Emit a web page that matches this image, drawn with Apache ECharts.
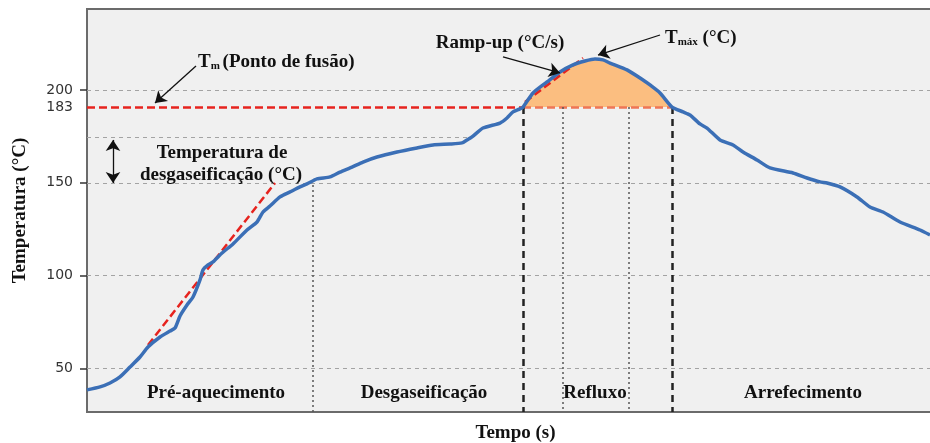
<!DOCTYPE html>
<html>
<head>
<meta charset="utf-8">
<script src="https://cdn.jsdelivr.net/npm/echarts@6/dist/echarts.min.js"></script>
<style>
  html, body { margin: 0; padding: 0; background: #fff; }
  #chart { width: 930px; height: 443px; }
</style>
</head>
<body>
<div id="chart"></div>
<script>
// perfil de refusao: tempo (unidades arbitrarias) x temperatura (oC)
const tempo = [0, 13, 23, 33, 43, 53, 61, 73, 83, 88, 93, 100, 106, 113, 116, 121, 126, 135, 146, 160,
  170, 176, 183, 193, 203, 213, 220, 230, 243, 253, 265, 276, 290, 310, 330, 346, 363, 375, 380, 385,
  396, 413, 420, 426, 433, 436, 446, 460, 473, 486, 498, 508, 516, 523, 540, 556, 563, 573, 585, 596,
  603, 613, 620, 633, 646, 656, 670, 683, 706, 720, 733, 740, 753, 770, 783, 796, 813, 833, 843];
const temperatura = [38.5, 40.1, 42.2, 45.5, 50.8, 56.2, 61.6, 67.0, 70.2, 71.8, 78.3, 84.2, 88.5, 97.7, 103.1, 105.8, 107.4, 112.2, 117.1, 124.6,
  128.9, 134.3, 137.5, 142.4, 145.1, 147.8, 149.4, 152.1, 153.2, 155.8, 158.5, 161.2, 163.9, 166.6, 168.8, 170.4, 170.9, 171.5, 173.1, 174.7,
  179.5, 182.2, 184.9, 188.2, 189.8, 190.8, 198.4, 204.3, 209.7, 213.5, 215.6, 216.7, 216.2, 214.5, 210.8, 205.4, 202.7, 198.4, 190.8, 188.2,
  186.5, 181.7, 179.5, 173.1, 170.4, 166.6, 162.3, 158.0, 155.3, 152.6, 150.5, 149.9, 147.8, 142.4, 137.0, 134.3, 128.9, 124.6, 121.9];

const yTicks = [50, 100, 150, 200];
const tmLabel = '183';
const tmNivel = 190.8;        // altura desenhada da linha Tm
const desgasNivel = 174.7;    // linha da temperatura de desgaseificacao
const desgasFim = 385;
const limitesFases = [226, 436, 476, 542, 585];
const fimRefluxo = 585;
const rampaPre = [[61, 62.7], [188, 149.9]];
const rampaUp = [[438, 193.5], [496, 217.2]];

const yMin = 26.6, yMax = 243.6, xMax = 845;
const serif = 'bold 19px "Liberation Serif", "Times New Roman", serif';
const serifNome = { fontFamily: '"Liberation Serif", "Times New Roman", serif', fontWeight: 'bold', fontSize: 19, color: '#111' };

const curva = tempo.map((t, i) => [t, temperatura[i]]);
const pico = curva.filter(p => p[0] >= limitesFases[1] && p[0] <= fimRefluxo);

function seg(x1, y1, x2, y2, style, s1, s2) {
  return [
    { coord: [x1, y1], symbol: s1 || 'none', symbolSize: 11 },
    { coord: [x2, y2], symbol: s2 || 'none', symbolSize: 11, lineStyle: style }
  ];
}
function helper(z, data) {
  return {
    type: 'line', data: [], silent: true, animation: false,
    markLine: { z: z, silent: true, animation: false, label: { show: false }, symbol: 'none', data: data }
  };
}

const grade = { color: '#a3a3a3', width: 1, type: [4, 4] };
const vermelho = { color: '#e6231e', width: 2.5, type: [8, 4] };
const salmao = { color: '#ee7656', width: 2.5, type: [8, 4] };
const preto = { color: '#222', width: 2.5, type: [7, 5] };
const pontilhado = { color: '#555', width: 1.5, type: [2, 3] };
const seta = { color: '#111', width: 1.3, type: 'solid' };

const chart = echarts.init(document.getElementById('chart'));
chart.setOption({
  animation: false,
  grid: { left: 87, top: 9, width: xMax, bottom: 31, outerBoundsMode: 'none', containLabel: false,
    show: true, backgroundColor: '#f0f0f0', borderColor: '#6b6b6b', borderWidth: 2 },
  xAxis: {
    type: 'value', min: 0, max: xMax,
    name: 'Tempo (s)', nameLocation: 'middle', nameGap: 12,
    nameTextStyle: Object.assign({ padding: [0, 0, 0, 12] }, serifNome),
    axisLine: { show: false }, axisTick: { show: false }, axisLabel: { show: false }, splitLine: { show: false }
  },
  yAxis: {
    type: 'value', min: yMin, max: yMax,
    name: 'Temperatura (°C)', nameLocation: 'middle', nameGap: 57,
    nameTextStyle: serifNome,
    axisLine: { show: false },
    axisTick: { show: true, customValues: yTicks, length: 7, lineStyle: { color: '#333', width: 1.5 } },
    axisLabel: { customValues: yTicks, fontFamily: 'DejaVu Sans', fontSize: 14, color: '#333', margin: 14 },
    splitLine: { show: false }
  },
  series: [
    helper(1, yTicks.map(v => seg(0, v, xMax, v, grade)).concat([seg(0, desgasNivel, desgasFim, desgasNivel, grade)])),
    {
      type: 'line', data: pico, showSymbol: false, silent: true, z: 2, smooth: 0.2,
      lineStyle: { width: 0 }, areaStyle: { color: '#fbbe80', opacity: 1, origin: tmNivel }
    },
    {
      type: 'line', data: [], silent: true,
      markLine: {
        z: 3, silent: true, symbol: 'none',
        data: [
          [{ coord: [0, tmNivel], label: { show: true, position: 'start', formatter: tmLabel, distance: 14, fontFamily: 'DejaVu Sans', fontSize: 14, color: '#333' } },
           { coord: [limitesFases[1], tmNivel], lineStyle: vermelho }],
          [{ coord: [limitesFases[1], tmNivel], label: { show: false } }, { coord: [fimRefluxo, tmNivel], lineStyle: salmao }]
        ]
      }
    },
    helper(3, [
      seg(limitesFases[0], 151.5, limitesFases[0], yMin, pontilhado),
      seg(limitesFases[1], tmNivel, limitesFases[1], yMin, preto),
      seg(limitesFases[2], tmNivel, limitesFases[2], yMin, pontilhado),
      seg(limitesFases[3], tmNivel, limitesFases[3], yMin, pontilhado),
      seg(limitesFases[4], tmNivel, limitesFases[4], yMin, preto)
    ]),
    helper(4, [
      seg(rampaPre[0][0], rampaPre[0][1], rampaPre[1][0], rampaPre[1][1], vermelho),
      seg(rampaUp[0][0], rampaUp[0][1], rampaUp[1][0], rampaUp[1][1], vermelho)
    ]),
    {
      type: 'line', data: curva, showSymbol: false, silent: true, z: 6, smooth: 0.2,
      lineStyle: { color: '#3b6fb6', width: 3.5 }
    },
    helper(7, [
      seg(109, 212.9, 68, 193.0, seta, 'none', 'arrow'),
      seg(26, 173.1, 26, 149.9, seta, 'arrow', 'arrow'),
      seg(416, 217.8, 473, 209.2, seta, 'none', 'arrow'),
      seg(573, 229.6, 511, 218.8, seta, 'none', 'arrow')
    ])
  ],
  graphic: [
    { type: 'text', x: 198, y: 62, z: 100, style: {
      text: '{a|T}{b|m }{a|(Ponto de fusão)}', textVerticalAlign: 'middle', fill: '#111',
      rich: { a: { font: serif, verticalAlign: 'bottom', lineHeight: 20 }, b: { font: 'bold 11px "Liberation Serif", serif', verticalAlign: 'bottom', lineHeight: 18 } } } },
    { type: 'text', x: 222, y: 153, z: 100, style: { text: 'Temperatura de', font: serif, fill: '#111', textAlign: 'center', textVerticalAlign: 'middle' } },
    { type: 'text', x: 221, y: 175, z: 100, style: { text: 'desgaseificação (°C)', font: serif, fill: '#111', textAlign: 'center', textVerticalAlign: 'middle' } },
    { type: 'text', x: 500, y: 43, z: 100, style: { text: 'Ramp-up (°C/s)', font: serif, fill: '#111', textAlign: 'center', textVerticalAlign: 'middle' } },
    { type: 'text', x: 665, y: 38, z: 100, style: {
      text: '{a|T}{b|máx}{a| (°C)}', textVerticalAlign: 'middle', fill: '#111',
      rich: { a: { font: serif, verticalAlign: 'bottom', lineHeight: 20 }, b: { font: 'bold 11px "Liberation Serif", serif', verticalAlign: 'bottom', lineHeight: 18 } } } },
    { type: 'text', x: 216, y: 393, z: 100, style: { text: 'Pré-aquecimento', font: serif, fill: '#111', textAlign: 'center', textVerticalAlign: 'middle' } },
    { type: 'text', x: 424, y: 393, z: 100, style: { text: 'Desgaseificação', font: serif, fill: '#111', textAlign: 'center', textVerticalAlign: 'middle' } },
    { type: 'text', x: 595, y: 393, z: 100, style: { text: 'Refluxo', font: serif, fill: '#111', textAlign: 'center', textVerticalAlign: 'middle' } },
    { type: 'text', x: 803, y: 393, z: 100, style: { text: 'Arrefecimento', font: serif, fill: '#111', textAlign: 'center', textVerticalAlign: 'middle' } }
  ]
});
</script>
</body>
</html>
